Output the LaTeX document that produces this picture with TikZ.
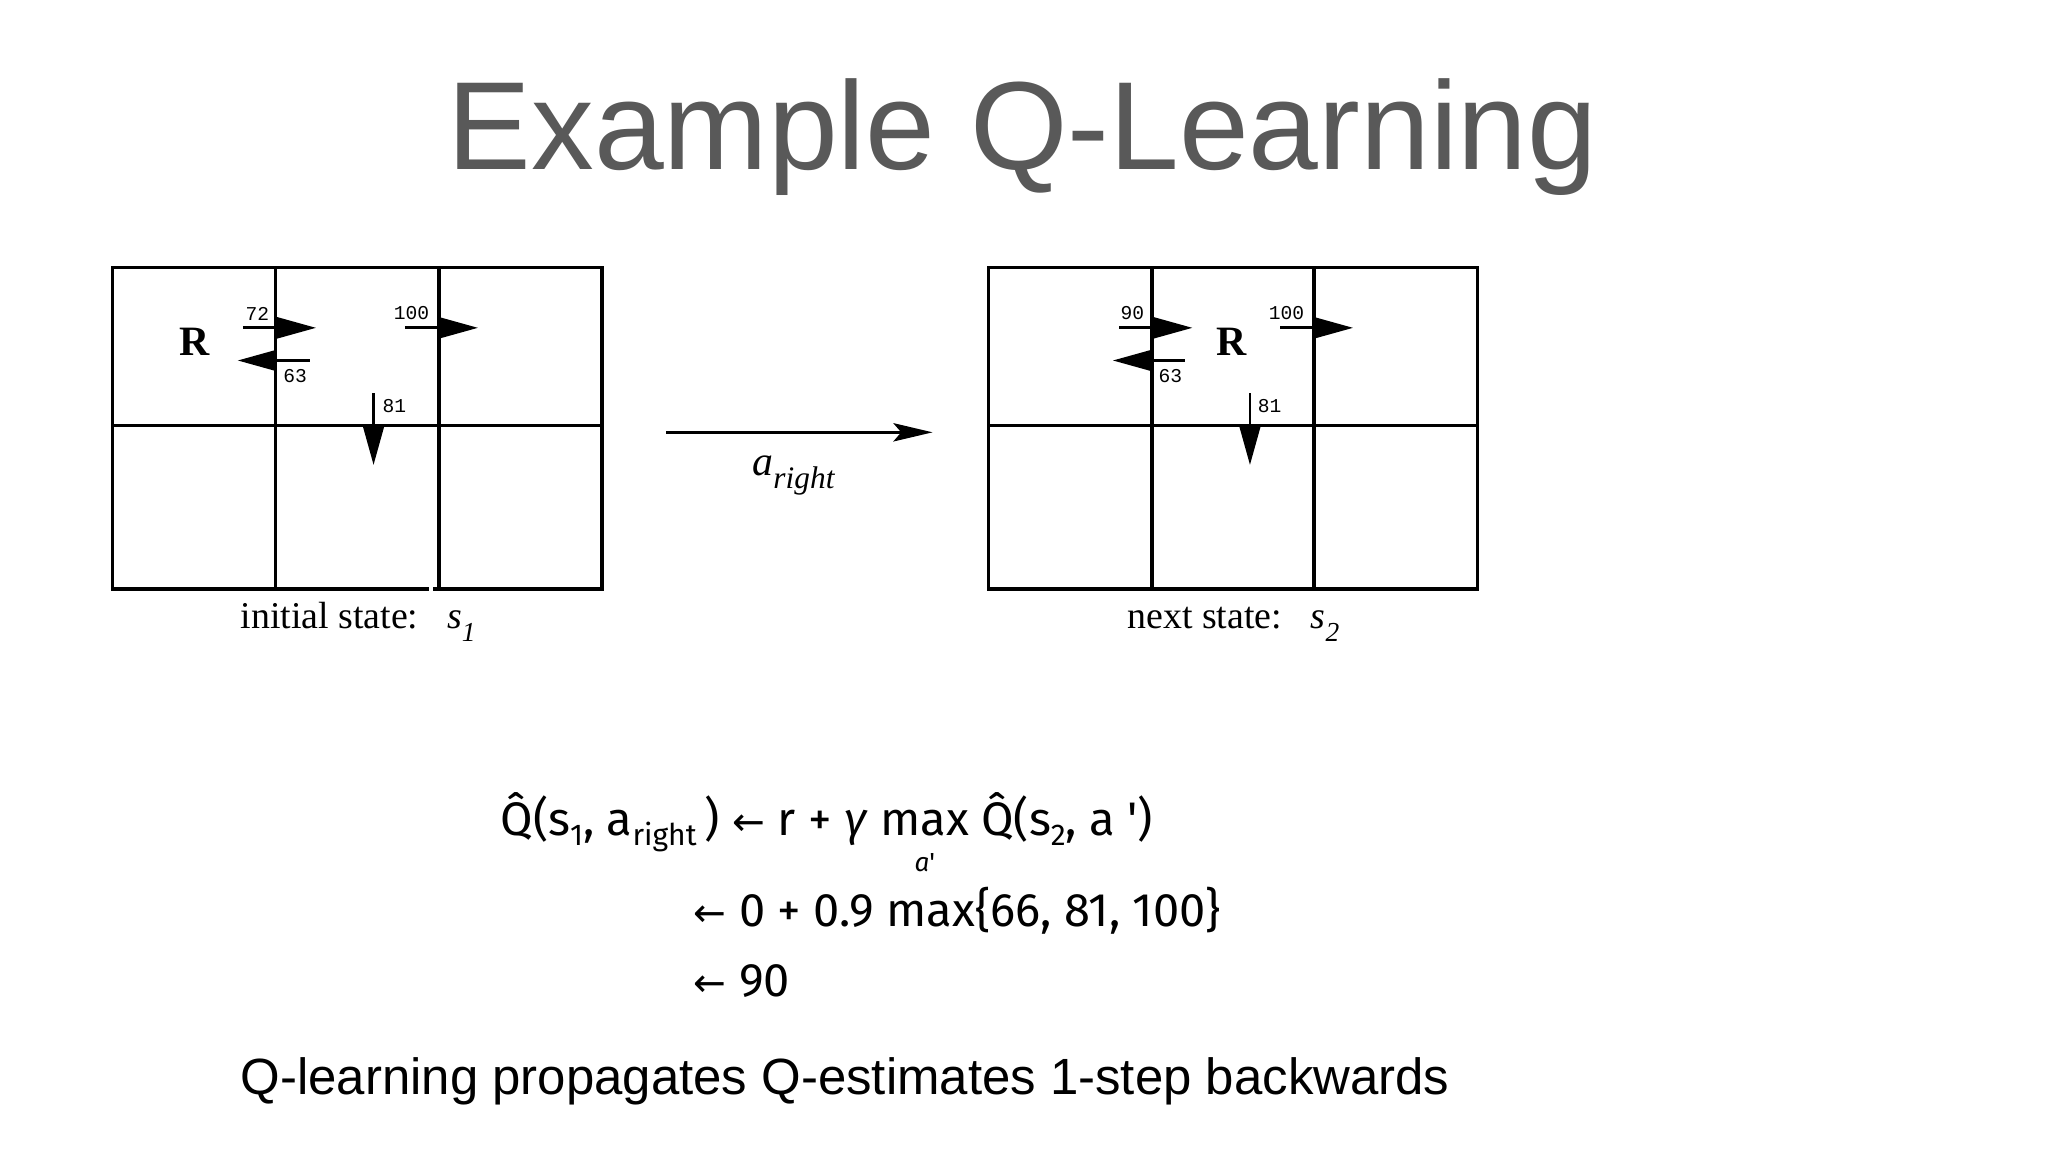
\documentclass[tikz,border=0pt]{standalone}
\usepackage{fontspec}
\setmainfont{Liberation Serif}
\newfontfamily\arialf{Liberation Sans}
\newfontfamily\monof{Liberation Mono}
\newfontfamily\eqf{Fira Sans}
\newfontfamily\symf{DejaVu Sans}
\usetikzlibrary{arrows.meta}
\newcommand{\lar}{{\symf\fontsize{30}{30}\selectfont ←}}
\newcommand{\sub}[1]{\raisebox{-7pt}{\fontsize{23}{23}\selectfont #1}}
\begin{document}
\begin{tikzpicture}[x=1pt,y=-1pt,
  grid/.style={line width=2.6pt},
  qarr/.style={line width=2.2pt,-{Triangle[length=30pt,width=16pt]}},
  qlab/.style={font=\monof\fontsize{15}{15}\selectfont,inner sep=0pt},
  rob/.style={font=\bfseries\fontsize{32}{32}\selectfont,inner sep=0pt},
  capt/.style={font=\fontsize{29}{29}\selectfont,inner sep=0pt,anchor=base west},
  eq/.style={font=\eqf\fontsize{36}{36}\selectfont,inner sep=0pt,anchor=base west}]
\useasboundingbox (0,0) rectangle (1568,882);
\node[font=\arialf\fontsize{96}{96}\selectfont,text=black!65,inner sep=0pt,anchor=base] (title) at (783,130) {Example Q-Learning};
% left grid
\draw[grid] (86,205) rectangle (461,451);
\draw[grid] (86,326) -- (461,326);
\draw[grid] (211,205) -- (211,451) (336,205) -- (336,451);
\draw[line width=4pt,white] (328.5,451) -- (331.5,451);
\coordinate (a1s) at (186,251); \coordinate (a1e) at (242,251);
\coordinate (a2s) at (237,276); \coordinate (a2e) at (182,276);
\coordinate (a3s) at (310,251); \coordinate (a3e) at (366,251);
\coordinate (a4s) at (286,301); \coordinate (a4e) at (286,356);
\draw[qarr] (a1s) -- (a1e); \draw[qarr] (a2s) -- (a2e);
\draw[qarr] (a3s) -- (a3e); \draw[qarr] (a4s) -- (a4e);
\node[rob] (r1) at (149,262) {R};
\node[qlab] (l72) at (197,240) {72};
\node[qlab] (l63) at (226,288) {63};
\node[qlab] (l100) at (315,240) {100};
\node[qlab] (l81) at (302,311) {81};
\node[capt] (c1) at (184,481) {initial state:\hspace{22pt}\textit{s}\raisebox{-10pt}{\fontsize{21}{21}\selectfont\textit{1}}};
% right grid
\draw[grid] (757,205) rectangle (1131,451);
\draw[grid] (757,326) -- (1131,326);
\draw[grid] (882,205) -- (882,451) (1006,205) -- (1006,451);
\coordinate (b1s) at (857,251); \coordinate (b1e) at (913,251);
\coordinate (b2s) at (907,276); \coordinate (b2e) at (852,276);
\coordinate (b3s) at (980,251); \coordinate (b3e) at (1036,251);
\coordinate (b4s) at (957,301); \coordinate (b4e) at (957,356);
\draw[qarr] (b1s) -- (b1e); \draw[qarr] (b2s) -- (b2e);
\draw[qarr] (b3s) -- (b3e); \draw[qarr] (b4s) -- (b4e);
\node[rob] (r2) at (943,262) {R};
\node[qlab] (m90) at (867,240) {90};
\node[qlab] (m63) at (896,288) {63};
\node[qlab] (m100) at (985,240) {100};
\node[qlab] (m81) at (972,311) {81};
\node[capt] (c2) at (863,481) {next state:\hspace{22pt}\textit{s}\raisebox{-10pt}{\fontsize{21}{21}\selectfont\textit{2}}};
% transition arrow
\coordinate (ts) at (510,331); \coordinate (te) at (714,331);
\draw[line width=2.2pt,-{Stealth[length=30pt,width=14pt,inset=6pt]}] (ts) -- (te);
\node[font=\fontsize{32}{32}\selectfont,inner sep=0pt,anchor=base west] (ar) at (576,364) {\textit{a}\raisebox{-10pt}{\fontsize{24}{24}\selectfont\textit{right}}};
% equation
\node[eq] (e1) at (383,640) {\^{Q}(s\sub{1}, a\sub{right}\,) \lar\ r + \textit{γ} max \^{Q}(s\sub{2}, a ')};
\node[eq,font=\eqf\fontsize{20}{20}\selectfont] (e1b) at (700,667) {\textit{a}'};
\node[eq] (e2) at (531,709) {\lar\ 0 + 0.9 max\{66, 81, 100\}};
\node[eq] (e3) at (531,763) {\lar\ 90};
\node[font=\arialf\fontsize{39}{39}\selectfont,inner sep=0pt,anchor=base west] (foot) at (184,838) {Q-learning propagates Q-estimates 1-step backwards};
\end{tikzpicture}
\end{document}
